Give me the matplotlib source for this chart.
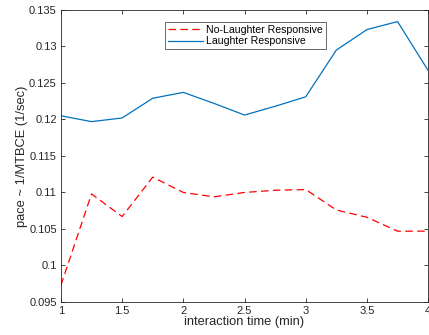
import matplotlib
matplotlib.use('Agg')
import matplotlib.pyplot as plt

# interaction time (min)
time_min = [1, 1.25, 1.5, 1.75, 2, 2.25, 2.5, 2.75, 3, 3.25, 3.5, 3.75, 4]
no_laughter = [0.0973, 0.1098, 0.1067, 0.1121, 0.1100, 0.1094, 0.1100, 0.1103,
               0.1104, 0.1076, 0.1066, 0.1047, 0.1047]
laughter = [0.1205, 0.1197, 0.1202, 0.1229, 0.1237, 0.1222, 0.1206, 0.1218,
            0.1231, 0.1295, 0.1323, 0.1334, 0.1267]

plt.rcParams['font.family'] = ['Liberation Sans', 'DejaVu Sans']

fig = plt.figure(figsize=(4.29, 3.35), dpi=100)
ax = fig.add_axes([0.142, 0.0985, 0.856, 0.872])

ax.plot(time_min, no_laughter, color='red', linestyle=(0, (6, 3.5)), linewidth=0.9,
        label='No-Laughter Responsive')
ax.plot(time_min, laughter, color='#0072BD', linestyle='-', linewidth=0.9,
        label='Laughter Responsive')

ax.set_xlim(1, 4)
ax.set_ylim(0.095, 0.135)
ax.set_xticks([1, 1.5, 2, 2.5, 3, 3.5, 4])
ax.set_xticklabels(['1', '1.5', '2', '2.5', '3', '3.5', '4'])
ax.set_yticks([0.095, 0.1, 0.105, 0.11, 0.115, 0.12, 0.125, 0.13, 0.135])
ax.set_yticklabels(['0.095', '0.1', '0.105', '0.11', '0.115', '0.12', '0.125', '0.13', '0.135'])
ax.tick_params(direction='in', top=True, right=True, labelsize=8, length=3,
               width=0.6, colors='#262626', pad=3)
for s in ax.spines.values():
    s.set_linewidth(0.6)
    s.set_color('#262626')

ax.set_xlabel('interaction time (min)', fontsize=9.3, color='#262626', labelpad=0)
ax.set_ylabel('pace ~ 1/MTBCE (1/sec)', fontsize=9.3, color='#262626', labelpad=1)

leg = ax.legend(loc='upper left', bbox_to_anchor=(0.283, 0.96), fontsize=7.6,
                frameon=True, fancybox=False, handlelength=3.3, handletextpad=0.3,
                borderpad=0.3, labelspacing=0.15, borderaxespad=0)
leg.get_frame().set_edgecolor('#262626')
leg.get_frame().set_linewidth(0.6)

plt.savefig('out.png', dpi=100)
